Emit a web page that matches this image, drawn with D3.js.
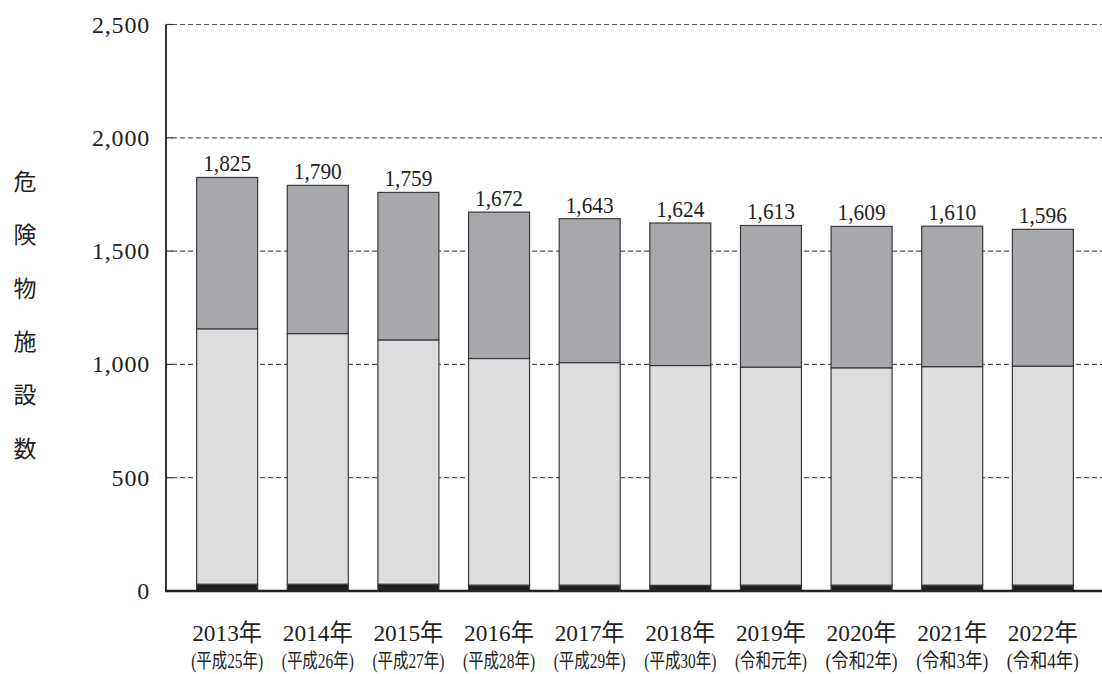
<!DOCTYPE html>
<html lang="ja">
<head>
<meta charset="utf-8">
<title>危険物施設数</title>
<script src="https://cdn.jsdelivr.net/npm/d3@7/dist/d3.min.js"></script>
<style>
  body { margin: 0; background: #fff; }
  text { font-family: 'Liberation Serif', 'Noto Sans CJK JP', serif; fill: #222; }
</style>
</head>
<body>
<script>
// data
var years = ['2013年', '2014年', '2015年', '2016年', '2017年', '2018年', '2019年', '2020年', '2021年', '2022年'];
var eras = ['(平成25年)', '(平成26年)', '(平成27年)', '(平成28年)', '(平成29年)', '(平成30年)', '(令和元年)', '(令和2年)', '(令和3年)', '(令和4年)'];
var totals = [1825, 1790, 1759, 1672, 1643, 1624, 1613, 1609, 1610, 1596];
var bottomPart = [30, 30, 30, 26, 26, 25, 26, 26, 26, 26];
var middlePart = [1127, 1106, 1078, 1000, 982, 970, 962, 959, 964, 966];
var yTicks = [0, 500, 1000, 1500, 2000, 2500];
var axisTitle = '危険物施設数';

var width = 1102, height = 674;
var svg = d3.select('body').append('svg')
  .attr('width', width)
  .attr('height', height);

// stack: bottom (black), middle (light), top (rest of total)
var rows = years.map(function (y, i) {
  return { year: y, bottom: bottomPart[i], middle: middlePart[i], top: totals[i] - bottomPart[i] - middlePart[i] };
});
var stack = d3.stack().keys(['bottom', 'middle', 'top'])(rows);
var fills = { bottom: '#231f20', middle: '#dcdddf', top: '#a7a8ab' };

var x = d3.scaleBand().domain(years).range([166, 1104]).paddingInner(0.327).paddingOuter(0.338);
var y = d3.scaleLinear().domain([0, 2500]).range([591, 24.5]);

// gridlines
svg.append('g').selectAll('line')
  .data(yTicks.filter(function (d) { return d > 0; }))
  .enter().append('line')
  .attr('x1', 172).attr('x2', 1102)
  .attr('y1', function (d) { return y(d); })
  .attr('y2', function (d) { return y(d); })
  .attr('stroke', '#555')
  .attr('stroke-width', 1.2)
  .attr('stroke-dasharray', '5,3');

// short solid ticks on the axis
svg.append('g').selectAll('line')
  .data(yTicks)
  .enter().append('line')
  .attr('x1', 166).attr('x2', 173)
  .attr('y1', function (d) { return y(d); })
  .attr('y2', function (d) { return y(d); })
  .attr('stroke', '#333')
  .attr('stroke-width', 1.2);

// tick labels
svg.append('g').selectAll('text')
  .data(yTicks)
  .enter().append('text')
  .attr('x', 150)
  .attr('y', function (d) { return y(d) + 8; })
  .attr('text-anchor', 'end')
  .attr('font-size', 24)
  .attr('letter-spacing', 0.8)
  .text(function (d) { return d3.format(',')(d); });

// bars
svg.append('g').selectAll('g')
  .data(stack)
  .enter().append('g')
  .attr('fill', function (s) { return fills[s.key]; })
  .selectAll('rect')
  .data(function (s) { return s; })
  .enter().append('rect')
  .attr('x', function (d) { return x(d.data.year); })
  .attr('width', x.bandwidth())
  .attr('y', function (d) { return y(d[1]); })
  .attr('height', function (d) { return y(d[0]) - y(d[1]); })
  .attr('stroke', '#3a3a3a')
  .attr('stroke-width', 1.2);

// total labels
svg.append('g').selectAll('text')
  .data(rows)
  .enter().append('text')
  .attr('x', function (d) { return x(d.year) + x.bandwidth() / 2; })
  .attr('y', function (d, i) { return y(totals[i]) - 6; })
  .attr('text-anchor', 'middle')
  .attr('font-size', 23)
  .attr('textLength', 48)
  .attr('lengthAdjust', 'spacingAndGlyphs')
  .text(function (d, i) { return d3.format(',')(totals[i]); });

// axes lines
svg.append('line')
  .attr('x1', 166).attr('x2', 166)
  .attr('y1', y(2500)).attr('y2', y(0))
  .attr('stroke', '#222').attr('stroke-width', 1.8);
svg.append('line')
  .attr('x1', 165).attr('x2', 1102)
  .attr('y1', y(0)).attr('y2', y(0))
  .attr('stroke', '#222').attr('stroke-width', 2.5);

// x labels
var xl = svg.append('g').selectAll('g')
  .data(years)
  .enter().append('g')
  .attr('transform', function (d) { return 'translate(' + (x(d) + x.bandwidth() / 2) + ',0)'; });
xl.append('text')
  .attr('y', 641)
  .attr('text-anchor', 'middle')
  .attr('font-size', 24)
  .attr('textLength', 70)
  .attr('lengthAdjust', 'spacingAndGlyphs')
  .text(function (d) { return d; });
xl.append('text')
  .attr('y', 668)
  .attr('text-anchor', 'middle')
  .attr('font-size', 20)
  .attr('textLength', 72)
  .attr('lengthAdjust', 'spacingAndGlyphs')
  .text(function (d, i) { return eras[i]; });

// vertical axis title, one character per line
svg.append('g').selectAll('text')
  .data(axisTitle.split(''))
  .enter().append('text')
  .attr('x', 25)
  .attr('y', function (d, i) { return 190 + i * 53.3; })
  .attr('text-anchor', 'middle')
  .attr('font-size', 23)
  .text(function (d) { return d; });
</script>
</body>
</html>
